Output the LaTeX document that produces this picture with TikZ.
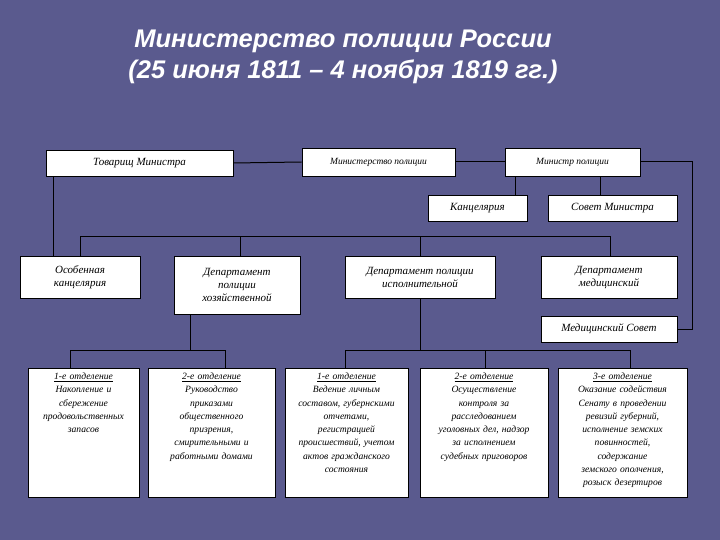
\documentclass[tikz,border=0pt]{standalone}
\usepackage{fontspec}
\setmainfont{Liberation Serif}
\newfontfamily\titlefont{Liberation Sans}
\definecolor{bg}{RGB}{90,90,142}
\begin{document}
\begin{tikzpicture}[x=1pt,y=-1pt,
  box/.style={draw=black,line width=0.8pt,fill=white,inner sep=0pt,font=\itshape\fontsize{11}{13}\selectfont,align=center},
  sframe/.style={draw=black,line width=0.8pt,fill=white,inner sep=0pt},
  stext/.style={inner sep=0pt,font=\itshape\fontsize{9.6}{13.3}\selectfont,align=center,anchor=north},
  ln/.style={draw=black,line width=1pt}]
\fill[bg] (0,0) rectangle (720,540);
\useasboundingbox (0,0) rectangle (720,540);
\node[text=white,font=\titlefont\bfseries\itshape\fontsize{25.5}{31}\selectfont,align=center] (title) at (343,57) {Министерство полиции России\\(25 июня 1811 – 4 ноября 1819 гг.)};
\def\bx#1#2#3#4#5#6{\node[box,minimum width=#4-#2,minimum height=#5-#3] (#1) at ({(#2+#4)/2},{(#3+#5)/2}) {#6};}
\bx{tov}{46}{150}{233}{176}{Товарищ Министра}
\bx{min}{302}{148}{455}{176}{\fontsize{9.5}{11}\selectfont Министерство полиции}
\bx{mp}{505}{148}{640}{176}{\fontsize{9.5}{11}\selectfont Министр полиции}
\bx{kan}{428}{195}{527}{221}{Канцелярия}
\bx{sov}{548}{195}{677}{221}{Совет Министра}
\bx{osob}{20}{256}{140}{298}{Особенная\\канцелярия}
\bx{dhoz}{174}{256}{300}{314}{Департамент\\полиции\\хозяйственной}
\bx{disp}{345}{256}{495}{298}{Департамент полиции\\исполнительной}
\bx{dmed}{541}{256}{677}{298}{Департамент\\медицинский}
\bx{msov}{541}{316}{677}{342}{Медицинский Совет}
\def\sb#1#2#3#4{\node[sframe,minimum width=#3-#2,minimum height=129] (#1) at ({(#2+#3)/2},432.5) {};
\node[stext,text width=#3-#2-6] (#1t) at ([yshift=-5]#1.north) {#4};}
\sb{o1}{28}{139}{\underline{1-е отделение}\\Накопление и\\сбережение\\продовольственных\\запасов}
\sb{o2}{148}{275}{\underline{2-е отделение}\\Руководство\\приказами\\общественного\\призрения,\\смирительными и\\работными домами}
\sb{o3}{285}{408}{\underline{1-е отделение}\\Ведение личным\\составом, губернскими\\отчетами,\\регистрацией\\происшествий, учетом\\актов гражданского\\состояния}
\sb{o4}{420}{548}{\underline{2-е отделение}\\Осуществление\\контроля за\\расследованием\\уголовных дел, надзор\\за исполнением\\судебных приговоров}
\sb{o5}{558}{687}{\underline{3-е отделение}\\Оказание содействия\\Сенату в проведении\\ревизий губерний,\\исполнение земских\\повинностей,\\содержание\\земского ополчения,\\розыск дезертиров}
% connectors
\draw[ln] (tov.east) -- (min.west);
\draw[ln] (min.east) -- (mp.west);
\draw[ln] (tov.south -| 53,0) -- (osob.north -| 53,0);
\draw[ln] (mp.south -| 515,0) -- (kan.north -| 515,0);
\draw[ln] (mp.south -| 600,0) -- (sov.north -| 600,0);
\draw[ln] (mp.east) -- (692,162) |- (msov.east);
\coordinate (h1) at (80,236);
\coordinate (h2) at (610,236);
\draw[ln] (osob.north -| h1) -- (h1) -- (h2) -- (dmed.north -| h2);
\draw[ln] (240,236) -- (dhoz.north -| 240,0);
\draw[ln] (420,236) -- (disp.north -| 420,0);
\coordinate (b1) at (70,350);
\coordinate (b2) at (225,350);
\draw[ln] (o1.north -| b1) -- (b1) -- (b2) -- (o2.north -| b2);
\draw[ln] (dhoz.south -| 190,0) -- (190,350);
\coordinate (c1) at (345,350);
\coordinate (c2) at (630,350);
\draw[ln] (o3.north -| c1) -- (c1) -- (c2) -- (o5.north -| c2);
\draw[ln] (485,350) -- (o4.north -| 485,0);
\draw[ln] (disp.south -| 420,0) -- (420,350);
\end{tikzpicture}
\end{document}
